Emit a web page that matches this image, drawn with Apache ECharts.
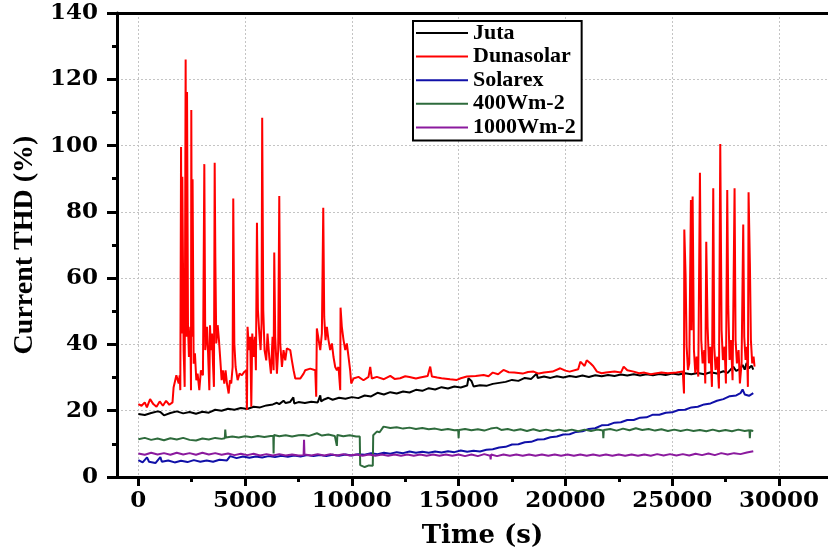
<!DOCTYPE html>
<html>
<head>
<meta charset="utf-8">
<script src="https://cdn.jsdelivr.net/npm/echarts@6.0.0/dist/echarts.min.js"></script>
<style>
html,body{margin:0;padding:0;background:#fff;}
#chart{width:828px;height:554px;}
</style>
</head>
<body>
<div id="chart"></div>
<script>
// ---- data (time in s, current THD in %) ----
var seriesNames = ['Juta', 'Dunasolar', 'Solarex', '400Wm-2', '1000Wm-2'];
var xTickValues = [0, 5000, 10000, 15000, 20000, 25000, 30000];
var xMinorTickValues = [2500, 7500, 12500, 17500, 22500, 27500];

var juta = [[0,19.0],[300,18.7],[600,19.3],[900,19.8],[1030,19.6],[1200,18.6],[1500,19.3],[1800,19.8],[2100,19.2],[2400,19.6],[2700,19.1],[3000,19.7],[3300,19.4],[3600,20.3],[3900,20.0],[4200,20.6],[4500,20.3],[4800,20.8],[5100,20.5],[5400,21.2],[5700,21.0],[6000,21.6],[6300,21.9],[6490,22.4],[6600,22.0],[6800,23.0],[6900,22.3],[7100,22.6],[7260,24.0],[7300,22.2],[7500,22.6],[7800,22.3],[8100,22.7],[8400,22.5],[8520,24.6],[8560,22.8],[8700,23.4],[8900,23.9],[9100,23.3],[9400,23.9],[9700,23.6],[10000,24.1],[10300,23.8],[10600,24.6],[10900,24.3],[11200,25.4],[11500,24.9],[11800,25.6],[12100,25.2],[12400,25.8],[12700,25.5],[13000,26.3],[13300,26.0],[13600,26.8],[13900,26.4],[14200,27.1],[14500,26.7],[14800,27.3],[15100,27.0],[15400,27.6],[15460,29.8],[15600,29.0],[15700,27.3],[16000,27.7],[16300,27.5],[16600,28.1],[16900,28.4],[17200,28.7],[17500,29.3],[17800,29.0],[18100,29.9],[18400,29.6],[18660,31.2],[18700,29.9],[19000,30.3],[19300,29.9],[19600,30.4],[19900,30.0],[20200,30.5],[20500,30.2],[20800,30.6],[21100,30.2],[21400,30.7],[21700,30.4],[22000,30.8],[22300,30.5],[22600,30.9],[22900,30.6],[23200,31.0],[23500,30.6],[23800,31.0],[24100,30.7],[24400,31.1],[24700,30.8],[25000,31.2],[25300,30.9],[25600,31.3],[25900,31.0],[26200,31.4],[26500,31.0],[26800,31.6],[27100,31.2],[27400,31.9],[27600,31.4],[27862,33.3],[28000,32.0],[28174,32.6],[28300,33.8],[28400,32.4],[28486,34.4],[28600,32.8],[28720,33.6],[28800,32.4]];

var dunasolar = [[0,22],[150,21.5],[300,22.5],[400,21],[550,23.5],[700,22],[850,21.2],[1000,22.8],[1150,21.5],[1300,23],[1450,21.8],[1600,22.5],[1650,27],[1700,27.2],[1780,30.7],[1890,28.2],[1935,30.7],[1965,26.2],[2000,99.6],[2030,43.3],[2060,90.6],[2120,38.3],[2170,27.2],[2215,126],[2245,42.3],[2280,116.2],[2325,45.3],[2370,36.2],[2435,45.3],[2465,26.2],[2480,110.7],[2510,42.3],[2540,89.8],[2590,34.2],[2650,37.3],[2715,29.2],[2775,31.2],[2855,26.2],[2930,32.2],[3025,30.7],[3090,94.4],[3135,38.3],[3215,45.3],[3260,38.3],[3325,26.2],[3355,45.8],[3400,38.3],[3450,43.3],[3495,34.2],[3540,27.2],[3575,94.8],[3605,66.4],[3650,40.3],[3715,45.8],[3775,41.3],[3840,35.2],[3900,29.2],[3960,32.2],[4025,28.2],[4085,32.2],[4150,28.2],[4230,25.2],[4290,29.2],[4350,28.2],[4415,33.2],[4445,84],[4495,40.3],[4555,33.2],[4650,29.2],[4740,31.2],[4850,30.7],[4960,31.7],[5055,32.2],[5085,20.2],[5115,45.3],[5180,38.3],[5240,42.3],[5290,21.2],[5335,43.3],[5400,36.2],[5460,42.3],[5505,32.2],[5555,76.7],[5600,50.4],[5665,43.3],[5725,38.3],[5770,46.3],[5800,108.4],[5850,50.4],[5910,38.3],[5990,35.2],[6050,43.3],[6130,36.2],[6210,31.2],[6285,42.3],[6335,32.2],[6365,67.7],[6410,42.3],[6490,31.2],[6550,38.3],[6600,84.8],[6645,40.3],[6725,33.2],[6800,38.3],[6880,35.2],[6955,38.8],[7115,38.3],[7190,35.2],[7270,32.2],[7350,29.7],[7580,29.7],[7740,31.2],[7815,32.2],[8050,32.7],[8285,32.2],[8330,24.2],[8360,44.8],[8440,44.3],[8520,38.3],[8595,43.3],[8660,81.2],[8705,48.3],[8765,41.3],[8830,45.3],[8905,41.3],[8985,38.3],[9065,40.3],[9140,36.2],[9220,33.2],[9300,32.2],[9375,33.2],[9455,26.2],[9470,51.1],[9530,45.3],[9610,41.3],[9690,38.3],[9765,40.3],[9845,36.2],[9920,32.2],[9970,28.2],[10075,29.7],[10310,30.2],[10545,29.2],[10780,30.2],[10860,33.2],[10935,29.7],[11170,30.2],[11500,29.5],[11800,30.5],[12000,29.6],[12260,29.8],[12500,30.4],[12700,30.2],[13000,29.7],[13200,30],[13550,30.5],[13670,33.3],[13750,30.3],[14000,30.0],[14200,29.8],[14600,29.5],[14915,29.3],[15100,29.8],[15385,30.3],[15800,30.5],[16170,30.8],[16400,30.4],[16600,31.5],[16850,31.0],[17100,32.3],[17350,31.6],[17600,31.5],[18000,31.2],[18250,31.7],[18510,31.8],[18750,31.2],[19000,31.5],[19400,31.8],[19760,32.8],[20000,32.1],[20200,31.8],[20600,32.5],[20700,34.8],[20900,33.5],[21000,35.2],[21170,34.3],[21300,33.5],[21480,31.8],[21700,31.3],[21900,31.5],[22300,31.8],[22600,31.5],[22730,33.3],[22900,32.2],[23200,31.8],[23450,31.3],[23700,31.5],[24000,31.0],[24200,31.2],[24500,31.5],[24800,31.3],[25200,31.5],[25500,31.8],[25555,25.2],[25570,74.7],[25630,60.9],[25680,39.3],[25740,32.3],[25803,34.3],[25880,83.6],[25912,44.3],[25960,84.6],[26021,38.3],[26084,31.3],[26146,36.3],[26224,30.3],[26302,91.8],[26364,41.3],[26427,34.3],[26505,38.3],[26552,28.2],[26598,71.0],[26661,45.3],[26723,34.3],[26786,39.3],[26864,27.2],[26926,87.1],[26973,39.3],[27035,32.3],[27113,36.3],[27191,26.7],[27254,100.5],[27316,44.3],[27378,35.3],[27456,39.3],[27519,28.2],[27581,86.6],[27628,51.4],[27690,35.3],[27753,41.3],[27831,29.2],[27924,87.1],[27971,41.3],[28034,34.3],[28112,38.3],[28174,28.2],[28252,34.3],[28330,76.2],[28377,42.3],[28439,35.3],[28502,39.3],[28548,27.2],[28580,85.9],[28642,64.5],[28689,41.3],[28751,34.3],[28814,36.3],[28860,33.3]];

var solarex = [[0,5.1],[200,4.4],[406,5.9],[500,4.6],[800,4.2],[1030,6.0],[1100,4.6],[1400,5.0],[1700,4.4],[2000,4.9],[2300,4.5],[2600,5.1],[2900,4.6],[3200,5.0],[3500,4.6],[3800,5.2],[4150,5.0],[4300,6.3],[4600,5.7],[4900,6.2],[5200,5.8],[5500,6.2],[5800,5.9],[6100,6.3],[6400,6.0],[6700,6.4],[7000,6.1],[7300,6.5],[7600,6.2],[7900,6.6],[8200,6.3],[8500,6.6],[8800,6.3],[9100,6.7],[9400,6.4],[9700,6.8],[10000,6.5],[10300,6.9],[10600,6.7],[10900,7.2],[11200,6.9],[11500,7.3],[11800,7.0],[12100,7.5],[12400,7.2],[12700,7.7],[13000,7.3],[13300,7.6],[13600,7.3],[13900,7.7],[14200,7.4],[14500,7.8],[14800,7.5],[15100,8.0],[15400,7.6],[15700,7.9],[16000,7.7],[16300,8.2],[16600,8.4],[16900,8.9],[17200,9.1],[17500,9.8],[17800,9.9],[18100,10.5],[18400,10.6],[18700,11.3],[19000,11.4],[19300,12.0],[19600,12.2],[19900,12.8],[20200,12.9],[20500,13.6],[20800,13.8],[21100,14.5],[21400,14.7],[21700,15.6],[22000,15.7],[22300,16.4],[22600,16.5],[22900,17.2],[23200,17.2],[23500,17.9],[23800,18.0],[24100,18.8],[24400,18.8],[24700,19.4],[25000,19.5],[25300,20.2],[25600,20.3],[25900,21.0],[26200,21.2],[26500,21.9],[26800,22.2],[27100,23.0],[27400,23.5],[27700,24.4],[28000,24.6],[28200,25.3],[28300,26.4],[28400,24.9],[28600,24.5],[28800,25.3]];

var w400 = [[0,11.4],[300,11.8],[600,11.2],[900,11.6],[1200,11.1],[1500,11.7],[1800,11.3],[2100,11.8],[2400,11.2],[2700,11.0],[3000,11.6],[3300,11.3],[3600,11.8],[3900,11.5],[4050,11.7],[4070,14.3],[4100,11.9],[4400,12.2],[4700,11.9],[5000,12.3],[5300,12.0],[5600,12.4],[5900,12.1],[6200,12.4],[6320,12.4],[6334,7.1],[6350,12.7],[6600,12.3],[6900,12.6],[7200,12.2],[7500,12.6],[7738,12.7],[8000,12.4],[8362,13.2],[8600,12.5],[8900,12.8],[9200,12.4],[9280,12.7],[9298,9.4],[9320,12.7],[9600,12.3],[9900,12.6],[10200,12.2],[10370,12.2],[10390,3.6],[10600,3.0],[10800,3.5],[10980,3.4],[11000,12.6],[11170,13.7],[11300,13.5],[11482,15.2],[11800,14.8],[12100,15.0],[12400,14.6],[12700,14.9],[13000,14.5],[13300,14.8],[13600,14.4],[13900,14.6],[14200,14.2],[14500,14.5],[14800,14.1],[14980,14.2],[15000,11.7],[15020,14.2],[15300,14.5],[15600,14.1],[15900,14.4],[16200,14.0],[16500,14.6],[16786,14.9],[17000,14.2],[17300,14.5],[17600,14.0],[17900,14.4],[18200,13.9],[18500,14.4],[18800,13.9],[19100,14.3],[19400,13.9],[19700,14.3],[20000,13.9],[20300,14.3],[20600,13.8],[20900,14.3],[21200,13.9],[21500,14.3],[21760,14.0],[21778,11.7],[21800,14.2],[22100,14.5],[22400,14.0],[22700,14.6],[23000,14.1],[23300,14.7],[23600,14.2],[23900,14.5],[24200,14.0],[24500,14.4],[24800,13.9],[25100,14.3],[25400,13.9],[25700,14.3],[26000,13.9],[26300,14.2],[26600,13.8],[26900,14.3],[27200,13.8],[27500,14.2],[27800,13.8],[28100,14.3],[28400,13.9],[28620,14.1],[28640,11.7],[28660,14.1],[28800,13.9]];

var w1000 = [[0,7.1],[300,6.7],[600,7.3],[900,6.8],[1200,7.2],[1500,6.7],[1800,7.3],[2100,6.8],[2400,7.2],[2700,6.7],[3000,7.3],[3300,6.8],[3600,7.2],[3900,6.7],[4200,7.1],[4500,6.6],[4800,7.0],[5100,6.6],[5400,7.0],[5700,6.5],[6000,6.9],[6300,6.5],[6600,6.9],[6900,6.5],[7200,6.8],[7500,6.5],[7740,6.6],[7760,11.2],[7780,6.8],[8100,6.5],[8400,6.9],[8700,6.5],[9000,6.9],[9300,6.5],[9600,6.9],[9900,6.5],[10200,6.8],[10500,6.4],[10800,6.8],[11100,6.4],[11400,6.8],[11700,6.4],[12000,6.8],[12300,6.4],[12600,6.8],[12900,6.4],[13200,6.8],[13500,6.4],[13800,6.8],[14100,6.4],[14400,6.8],[14700,6.4],[15000,6.8],[15300,6.3],[15600,6.8],[15900,6.3],[16200,6.9],[16480,6.4],[16500,5.3],[16520,6.8],[16800,6.3],[17100,6.8],[17400,6.4],[17700,6.8],[18000,6.4],[18300,6.8],[18600,6.4],[18900,6.8],[19200,6.4],[19500,6.8],[19800,6.4],[20100,6.8],[20400,6.4],[20700,6.8],[21000,6.4],[21300,6.8],[21600,6.4],[21900,6.8],[22200,6.4],[22500,6.8],[22800,6.4],[23100,6.8],[23400,6.4],[23700,6.8],[24000,6.4],[24300,6.9],[24600,6.5],[24900,6.9],[25200,6.5],[25500,6.9],[25800,6.5],[26100,7.0],[26400,6.6],[26700,7.1],[27000,6.6],[27300,7.2],[27600,6.8],[27900,7.2],[28200,6.9],[28500,7.4],[28800,7.8]];

var seriesData = [juta, dunasolar, solarex, w400, w1000];
var seriesColors = ['#000000', '#ff0000', '#1010a8', '#2e6b3c', '#8b1a9e'];

var X_MIN = -1000, X_MAX = 32300;
var tickFont = {fontFamily: 'DejaVu Serif', fontWeight: 'bold', fontSize: 23, color: '#000'};
var gridLine = {show: true, lineStyle: {color: '#c4c4c4', type: [2, 2], width: 1}};

var chart = echarts.init(document.getElementById('chart'), null, {renderer: 'canvas'});
chart.setOption({
  animation: false,
  backgroundColor: '#fff',
  grid: {left: 117, right: 0, top: 13, bottom: 77, containLabel: false},
  legend: {
    orient: 'vertical',
    left: 413, top: 21,
    padding: [1, 6, 2, 3],
    backgroundColor: '#fff',
    borderColor: '#000', borderWidth: 2,
    icon: 'rect',
    itemWidth: 52, itemHeight: 2, itemGap: 1.6,
    textStyle: {fontFamily: 'Liberation Serif', fontWeight: 'bold', fontSize: 22, color: '#000', lineHeight: 22},
    data: seriesNames
  },
  xAxis: [
    {
      type: 'value', min: X_MIN, max: X_MAX, position: 'bottom',
      axisLine: {show: true, onZero: false, lineStyle: {color: '#000', width: 3}},
      axisTick: {show: true, inside: false, length: 9, customValues: xTickValues, lineStyle: {color: '#000', width: 3}},
      axisLabel: Object.assign({customValues: xTickValues, margin: 13, formatter: function (v) { return String(v); }}, tickFont),
      splitLine: gridLine,
      name: 'Time (s)', nameLocation: 'middle', nameGap: 46,
      nameTextStyle: {fontFamily: 'DejaVu Serif', fontWeight: 'bold', fontSize: 26, color: '#000', padding: [0, 0, 0, 20]}
    },
    {
      type: 'value', min: X_MIN, max: X_MAX, position: 'bottom',
      axisLine: {show: false},
      axisTick: {show: true, inside: false, length: 5, customValues: xMinorTickValues, lineStyle: {color: '#000', width: 3}},
      axisLabel: {show: false},
      splitLine: {show: false}
    },
    {
      type: 'value', min: X_MIN, max: X_MAX, position: 'top',
      axisLine: {show: true, onZero: false, lineStyle: {color: '#000', width: 3}},
      axisTick: {show: false}, axisLabel: {show: false}, splitLine: {show: false}
    }
  ],
  yAxis: {
    type: 'value', min: 0, max: 140, interval: 20,
    axisLine: {show: true, onZero: false, lineStyle: {color: '#000', width: 3}},
    axisTick: {show: true, inside: false, length: 10, lineStyle: {color: '#000', width: 3}},
    minorTick: {show: true, splitNumber: 2, length: 5, lineStyle: {color: '#000', width: 3}},
    axisLabel: Object.assign({margin: 19}, tickFont),
    splitLine: gridLine,
    name: 'Current THD (%)', nameLocation: 'middle', nameGap: 78,
    nameTextStyle: {fontFamily: 'Liberation Serif', fontWeight: 'bold', fontSize: 28, color: '#000'}
  },
  series: seriesNames.map(function (name, i) {
    return {
      name: name, type: 'line', xAxisIndex: 0, yAxisIndex: 0,
      data: seriesData[i],
      symbol: 'none', showSymbol: false,
      lineStyle: {color: seriesColors[i], width: 2},
      itemStyle: {color: seriesColors[i]},
      z: 2 + i
    };
  })
});
</script>
</body>
</html>
